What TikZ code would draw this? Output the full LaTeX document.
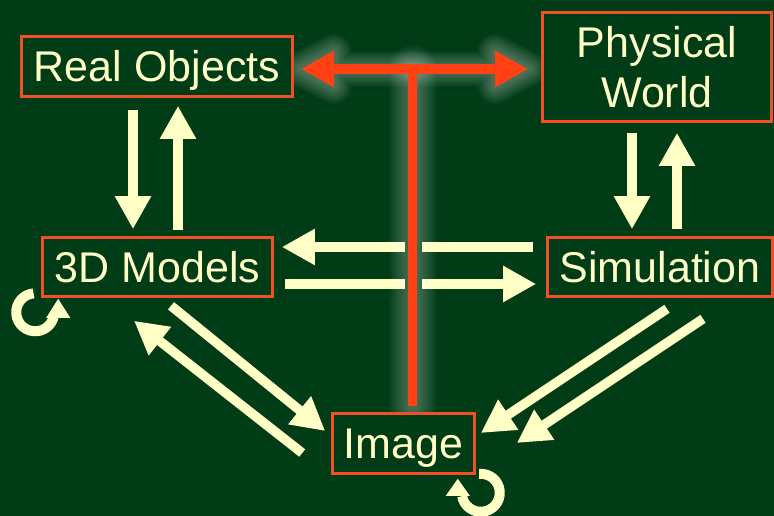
\documentclass[tikz,border=0pt]{standalone}
\usepackage{fontspec}
\setmainfont{Liberation Sans}
\usetikzlibrary{arrows.meta,calc}
\definecolor{bg}{RGB}{0,60,22}
\definecolor{cream}{RGB}{255,255,198}
\definecolor{boxred}{RGB}{240,80,35}
\definecolor{tred}{RGB}{255,65,20}
\pgfdeclarelayer{fg}
\pgfdeclarelayer{back}
\pgfsetlayers{back,main,fg}
\begin{document}
\begin{tikzpicture}[x=1pt,y=1pt,
  boxbase/.style={draw=boxred, line width=2.6pt, fill=bg, inner sep=0pt, text=cream,
    font=\fontsize{43}{50}\selectfont},
  box/.style={boxbase, text height=30.5pt, text depth=0pt},
  arr/.style={draw=cream, line width=9.5pt, -{Triangle[length=33pt,width=34pt,fill=cream]}},
  loopline/.style={draw=cream, line width=10pt},
  loophead/.style={fill=cream},
  glowline/.style={draw=white, line cap=round, line join=round},
  redline/.style={draw=tred}
]
\begin{pgfonlayer}{back}
\fill[bg] (0,0) rectangle (774,516);
\end{pgfonlayer}
\useasboundingbox (0,0) rectangle (774,516);

\begin{pgfonlayer}{fg}
\node[box, minimum width=271pt, minimum height=60pt] (ro) at (157,449.5) {Real Objects};
\node[boxbase, minimum width=229pt, minimum height=109pt, align=center] (pw) at (657,449) {Physical\\World};
\node[box, minimum width=230pt, minimum height=59pt] (md) at (157.5,249) {3D Models};
\node[box, minimum width=225pt, minimum height=59pt] (sim) at (660,249) {Simulation};
\node[box, minimum width=142pt, minimum height=60pt] (img) at (403.5,72.5) {Image};
\end{pgfonlayer}

% vertical arrows
\draw[arr] ($(ro.south)+(-24,-12)$) -- ($(md.north)+(-24.5,7)$);
\draw[arr] ($(md.north)+(20.5,6)$) -- ($(ro.south)+(21,-8)$);
\draw[arr] ($(pw.south)+(-25,-10)$) -- ($(sim.north)+(-28,7)$);
\draw[arr] ($(sim.north)+(17,7)$) -- ($(pw.south)+(20,-10)$);
% horizontal arrows
\draw[arr] ($(sim.west)+(-13,20)$) -- ($(md.east)+(8,20)$);
\draw[arr] ($(md.east)+(11,-17)$) -- ($(sim.west)+(-10,-17)$);
% diagonal arrows
\draw[arr] ($(md.south)+(13.5,-8)$) -- ($(img.west)+(-6,12.5)$);
\draw[arr] ($(img.west)+(-29,-9.5)$) -- ($(md.south)+(-23.5,-23)$);
\draw[arr] ($(sim.south)+(7,-11)$) -- ($(img.east)+(5,10.5)$);
\draw[arr] ($(sim.south)+(43,-21)$) -- ($(img.east)+(41,0.5)$);

% self loops
\coordinate (mdc) at ($(md.south west)+(-6,-14.5)$);
\draw[loopline] ($(mdc)+(95:19pt)$) arc[start angle=95, end angle=350, radius=19pt];
\fill[loophead] ($(md.south west)+(5,-20)$) -- ($(md.south west)+(29,-20)$) -- ($(md.south west)+(17,-1)$) -- cycle;
\coordinate (imc) at ($(img.south east)+(5,-18)$);
\draw[loopline] ($(imc)+(95:19pt)$) arc[start angle=95, end angle=-170, radius=19pt];
\fill[loophead] ($(img.south east)+(-30,-21)$) -- ($(img.south east)+(-6,-21)$) -- ($(img.south east)+(-18,-4)$) -- cycle;

% red T coordinates
\coordinate (tl) at ($(ro.east)+(7,-2.5)$);
\coordinate (tr) at ($(pw.west)+(-13,-2)$);
\coordinate (tb) at ($(img.north)+(9,6)$);
\coordinate (tj) at (tl -| tb);

% gap in the horizontal arrows
\fill[bg] ($(tb |- md.south)+(-7.5,8)$) rectangle ($(tb |- md.north)+(9.5,-2)$);

% glow
\foreach \w in {48,45,...,9} {
  \draw[glowline, opacity=0.025, line width=\w pt]
    (tj) -- (tb);
}
\foreach \w in {36,33,...,6} {
  \draw[glowline, opacity=0.03, line width=\w pt]
    (tl) -- (tr)
    (tl) -- ($(tl)+(33,17)$) -- ($(tl)+(33,-17)$) -- cycle
    (tr) -- ($(tr)+(-33,17)$) -- ($(tr)+(-33,-17)$) -- cycle;
}
% red T
\draw[redline, line width=10pt, {Triangle[length=33pt,width=34pt,fill=tred]}-{Triangle[length=33pt,width=34pt,fill=tred]}] (tl) -- (tr);
\draw[redline, line width=9pt] (tj) -- (tb);
\end{tikzpicture}
\end{document}
